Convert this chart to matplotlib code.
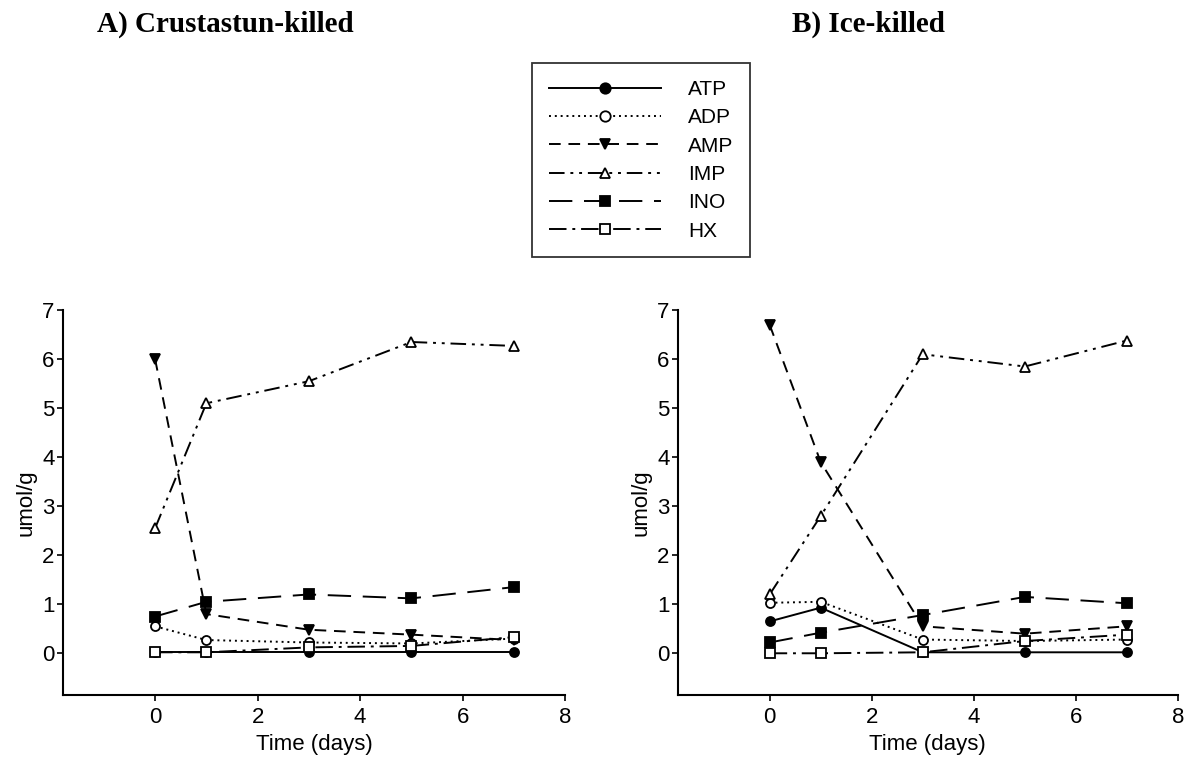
import matplotlib
matplotlib.use("Agg")
import matplotlib.pyplot as plt
from matplotlib.lines import Line2D

days = [0, 1, 3, 5, 7]
names = ["ATP", "ADP", "AMP", "IMP", "INO", "HX"]

# A) Crustastun-killed
crust_atp = [0.02, 0.02, 0.02, 0.02, 0.02]
crust_adp = [0.55, 0.27, 0.22, 0.2, 0.3]
crust_amp = [6.0, 0.8, 0.48, 0.38, 0.27]
crust_imp = [2.55, 5.1, 5.55, 6.35, 6.27]
crust_ino = [0.75, 1.05, 1.2, 1.12, 1.35]
crust_hx = [0.02, 0.02, 0.12, 0.15, 0.33]

# B) Ice-killed
ice_atp = [0.65, 0.93, 0.02, 0.02, 0.02]
ice_adp = [1.03, 1.05, 0.28, 0.25, 0.28]
ice_amp = [6.7, 3.9, 0.55, 0.4, 0.55]
ice_imp = [1.2, 2.8, 6.1, 5.85, 6.38]
ice_ino = [0.22, 0.42, 0.78, 1.15, 1.02]
ice_hx = [0.0, 0.0, 0.02, 0.25, 0.38]

styles = [
    dict(linestyle="-", marker="o", mfc="black"),
    dict(linestyle=(0, (1, 2)), marker="o", mfc="white"),
    dict(linestyle=(0, (6, 4)), marker="v", mfc="black"),
    dict(linestyle=(0, (8, 3, 1.5, 3, 1.5, 3)), marker="^", mfc="white"),
    dict(linestyle=(0, (12, 6)), marker="s", mfc="black"),
    dict(linestyle=(0, (9, 3, 1.5, 3)), marker="s", mfc="white"),
]

sans = ["Liberation Sans", "DejaVu Sans"]
serif = ["Liberation Serif", "DejaVu Serif"]

fig = plt.figure(figsize=(11.85, 7.62), dpi=100)
ax1 = fig.add_axes([0.053, 0.088, 0.424, 0.505])
ax2 = fig.add_axes([0.572, 0.088, 0.422, 0.505])

panels = [
    (ax1, [crust_atp, crust_adp, crust_amp, crust_imp, crust_ino, crust_hx]),
    (ax2, [ice_atp, ice_adp, ice_amp, ice_imp, ice_ino, ice_hx]),
]

for ax, series in panels:
    for vals, st in zip(series, styles):
        ax.plot(days, vals, color="black", linewidth=1.4, markersize=6.5,
                mec="black", mew=1.3, **st)
    ax.set_xlim(-1.8, 8)
    ax.set_ylim(-0.85, 7)
    ax.set_xticks([0, 2, 4, 6, 8])
    ax.set_yticks(range(0, 8))
    ax.spines["top"].set_visible(False)
    ax.spines["right"].set_visible(False)
    ax.spines["left"].set_bounds(-0.85, 7)
    ax.spines["left"].set_linewidth(1.5)
    ax.spines["bottom"].set_linewidth(1.5)
    ax.tick_params(direction="out", length=4, width=1.2, pad=2, labelsize=16)
    ax.tick_params(axis="x", pad=5)
    for lab in ax.get_xticklabels() + ax.get_yticklabels():
        lab.set_family(sans)
    ax.set_xlabel("Time (days)", fontsize=16, family=sans, labelpad=4)
    ax.set_ylabel("umol/g", fontsize=16, family=sans, labelpad=4)

fig.text(0.19, 0.968, "A) Crustastun-killed", fontsize=21, fontweight="bold",
         family=serif, ha="center", va="center")
fig.text(0.733, 0.968, "B) Ice-killed", fontsize=21, fontweight="bold",
         family=serif, ha="center", va="center")

handles = [Line2D([], [], color="black", linewidth=1.4, markersize=7.5,
                  mec="black", mew=1.3, **st) for st in styles]
leg = fig.legend(handles, names, loc="upper left",
                 bbox_to_anchor=(0.449, 0.917), frameon=True, fancybox=False,
                 edgecolor="black", handlelength=5.4, handletextpad=1.3,
                 labelspacing=0.45, borderpad=0.8, borderaxespad=0,
                 prop={"family": sans, "size": 15})
leg.get_frame().set_linewidth(1.3)

fig.savefig("out.png", dpi=100)
